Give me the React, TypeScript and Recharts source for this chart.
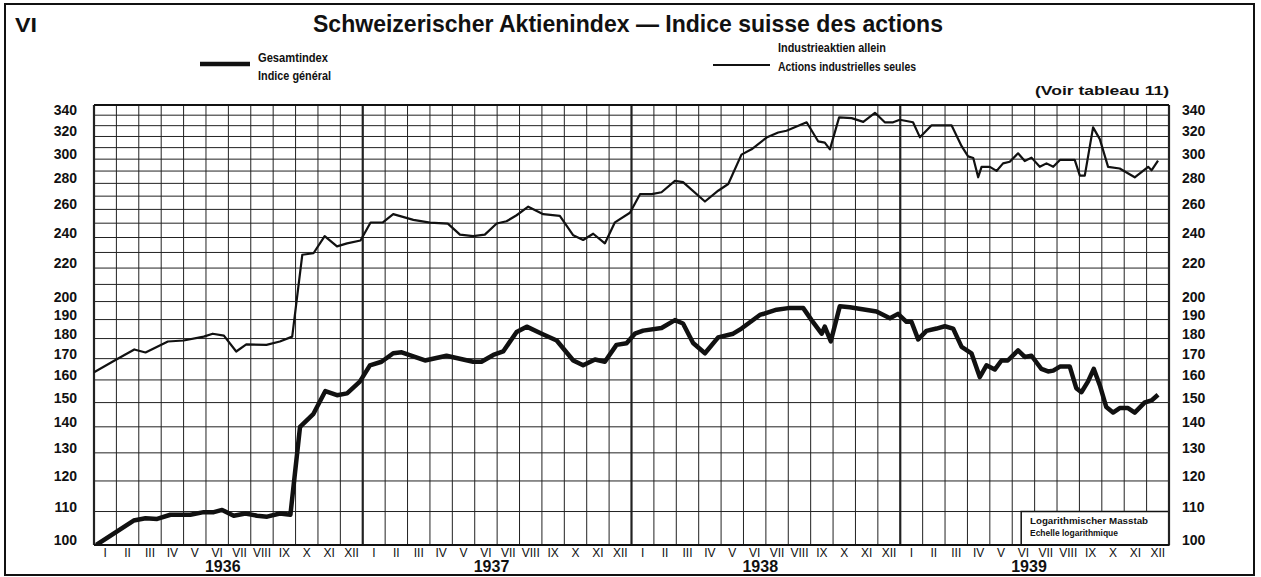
import React from 'react';
import {
  LineChart,
  Line,
  XAxis,
  YAxis,
  CartesianGrid,
  ReferenceLine,
  ReferenceArea,
} from 'recharts';

// month index (0 = start of Jan 1936) and index value
const GESAMTINDEX: [number, number][] = [
  [0.1, 100], [1.77, 107.2], [2.3, 107.9], [2.82, 107.7], [3.41, 109], [4.3, 109],
  [4.9, 109.8], [5.35, 109.8], [5.72, 110.5], [6.24, 108.7], [6.76, 109.4], [7.28, 108.7],
  [7.73, 108.4], [8.3, 109.4], [8.77, 109], [9.2, 140], [9.8, 145.3], [10.33, 155],
  [10.85, 153.2], [11.3, 154], [11.87, 159.2],
  [12.32, 166.8], [12.84, 168.5], [13.36, 172.6], [13.74, 173.1], [14.78, 169.1], [15.74, 171.4],
  [16.93, 168.5], [17.3, 168.5], [17.83, 171.8], [18.27, 173.5], [18.87, 183.4], [19.32, 186.2],
  [19.99, 182.5], [20.66, 179], [21.4, 169.1], [21.84, 166.8], [22.37, 169.6], [22.81, 168.5],
  [23.33, 176.8], [23.78, 177.6],
  [24.15, 182.5], [24.52, 184.1], [25.34, 185.5], [25.94, 189.7], [26.3, 187.9], [26.75, 177.7],
  [27.28, 172.6], [27.87, 180.6], [28.54, 182.5], [28.91, 185.2], [29.73, 192.5], [30.48, 195.4],
  [31.0, 196.3], [31.67, 196.3], [32.04, 189.7], [32.49, 182.5], [32.63, 186.2], [32.9, 178.6],
  [33.3, 197.3], [33.75, 196.8], [34.94, 194.4], [35.54, 190.7], [35.9, 193.1],
  [36.28, 188.8], [36.5, 188.8], [36.8, 179.6], [37.17, 184], [37.62, 185.2], [37.99, 186.4],
  [38.36, 185.2], [38.74, 175.8], [39.18, 172.6], [39.55, 161.3], [39.85, 166.8], [40.22, 164.8],
  [40.52, 169.1], [40.8, 169.1], [41.26, 174], [41.56, 170.8], [41.86, 171.4], [42.3, 165.1],
  [42.6, 163.9], [42.83, 164.3], [43.13, 166.2], [43.57, 166.2], [43.86, 156.3], [44.09, 154.5],
  [44.38, 159.2], [44.64, 165.1], [44.91, 157.6], [45.2, 148.1], [45.5, 145.8], [45.8, 147.7],
  [46.17, 147.7], [46.47, 145.8], [46.92, 150.1], [47.22, 150.9], [47.51, 153.4],
];

const INDUSTRIEAKTIEN: [number, number][] = [
  [0, 163.5], [0.9, 169], [1.8, 174.5], [2.3, 173], [3.3, 178.5], [4.0, 179],
  [4.9, 181], [5.3, 182.5], [5.8, 181.5], [6.35, 173.5], [6.8, 177], [7.7, 176.8],
  [8.3, 178.5], [8.85, 181], [9.3, 228.5], [9.8, 229.5], [10.3, 241], [10.85, 234],
  [11.3, 236], [11.9, 238],
  [12.35, 250.5], [12.9, 250.6], [13.36, 256.5], [14.26, 252.4], [15.0, 250.4], [15.8, 249.7],
  [16.34, 242], [16.93, 241], [17.45, 242], [17.98, 249.8], [18.42, 251.4], [18.87, 255.7],
  [19.39, 262], [20.06, 256.5], [20.8, 255.3], [21.4, 241.5], [21.84, 238.3], [22.29, 242.6],
  [22.81, 236], [23.26, 250.6], [23.93, 257.5],
  [24.38, 271.5], [24.9, 271.5], [25.34, 273], [25.94, 282], [26.3, 281], [27.28, 265.9],
  [27.87, 274.2], [28.32, 279.5], [28.91, 303.9], [29.36, 308.5], [30.03, 319], [30.55, 323.6],
  [30.92, 325.3], [31.82, 333.2], [32.34, 315.5], [32.63, 314.4], [32.86, 308.5], [33.27, 337.9],
  [33.83, 337.2], [34.35, 333.6], [34.87, 342.3], [35.31, 333.2], [35.68, 333.2], [35.98, 335.6],
  [36.57, 333.2], [36.88, 319.2], [37.4, 330.3], [38.29, 330.3], [38.74, 311.3], [39.03, 302.4],
  [39.26, 301], [39.48, 284.9], [39.63, 293.5], [40.0, 293.5], [40.3, 290.1], [40.59, 296.4],
  [40.89, 297.8], [41.26, 305], [41.56, 298.4], [41.86, 301.3], [42.23, 293.5], [42.53, 296.4],
  [42.83, 293.5], [43.13, 299.3], [43.79, 299.3], [44.02, 286.2], [44.24, 286.2], [44.61, 328.4],
  [44.91, 317.6], [45.28, 293.5], [45.8, 292.1], [46.47, 284.9], [47.07, 293.5], [47.22, 290.6],
  [47.51, 298.7],
];

const MONTHS = ['I', 'II', 'III', 'IV', 'V', 'VI', 'VII', 'VIII', 'IX', 'X', 'XI', 'XII'];
const YEARS = ['1936', '1937', '1938', '1939'];
const Y_GRID = [
  100, 110, 120, 130, 140, 150, 160, 170, 180, 190, 200, 210, 220,
  230, 240, 250, 260, 270, 280, 290, 300, 310, 320, 330, 340, 350,
];
const Y_LABELS = [
  100, 110, 120, 130, 140, 150, 160, 170, 180, 190, 200, 220, 240, 260, 280, 300, 320, 340,
];

// note box in the lower right corner ("Logarithmischer Masstab")
const NOTE_BOX = { x1: 41.4, x2: 48, y1: 100, y2: 110 };

const FONT = '"Liberation Sans", Arial, sans-serif';
const NARROW = '"Liberation Sans Narrow", "Liberation Sans", Arial, sans-serif';
const INK = '#111';

const gesamtData = GESAMTINDEX.map(([m, v]) => ({ m, v }));
const industrieData = INDUSTRIEAKTIEN.map(([m, v]) => ({ m, v }));
const monthGrid = Array.from({ length: 49 }, (_, i) => i);
const monthCenters = Array.from({ length: 48 }, (_, i) => i + 0.5);
const yearCenters = YEARS.map((_, i) => i * 12 + 5.75);

const LeftTick = (props: any) => {
  const { x, y, payload } = props;
  if (!Y_LABELS.includes(payload.value)) return <g />;
  return (
    <text x={x} y={y} textAnchor="end" fontSize={14} fontWeight="bold" fontFamily={FONT} fill={INK}>
      {payload.value}
    </text>
  );
};

const RightTick = (props: any) => {
  const { x, y, payload } = props;
  if (!Y_LABELS.includes(payload.value)) return <g />;
  return (
    <text x={x} y={y} textAnchor="start" fontSize={14} fontWeight="bold" fontFamily={FONT} fill={INK}>
      {payload.value}
    </text>
  );
};

const MonthTick = (props: any) => {
  const { x, y, payload } = props;
  const label = MONTHS[Math.floor(payload.value) % 12];
  return (
    <text x={x} y={y} dy={12} textAnchor="middle" fontSize={12} fontFamily={NARROW} fill={INK}>
      {label}
    </text>
  );
};

const YearTick = (props: any) => {
  const { x, y, payload } = props;
  const idx = yearCenters.indexOf(payload.value);
  return (
    <text x={x} y={y} dy={10} textAnchor="middle" fontSize={16} fontWeight="bold" fontFamily={FONT} fill={INK}>
      {YEARS[idx]}
    </text>
  );
};

export default function App() {
  return (
    <div style={{ position: 'absolute', left: 0, top: 0, width: 1261, height: 577, background: '#fff' }}>
      <LineChart
        width={1261}
        height={577}
        margin={{ top: 105, right: 32, bottom: 0, left: 34 }}
      >
        <XAxis
          xAxisId="grid"
          dataKey="m"
          type="number"
          domain={[0, 48]}
          ticks={monthGrid}
          tick={false}
          tickLine={false}
          axisLine={false}
          height={0}
          allowDataOverflow
        />
        <XAxis
          xAxisId="month"
          dataKey="m"
          type="number"
          domain={[0, 48]}
          ticks={monthCenters}
          tick={MonthTick}
          tickLine={false}
          axisLine={false}
          tickSize={0}
          tickMargin={0}
          height={17}
          interval={0}
          allowDataOverflow
        />
        <XAxis
          xAxisId="year"
          dataKey="m"
          type="number"
          domain={[0, 48]}
          ticks={yearCenters}
          tick={YearTick}
          tickLine={false}
          axisLine={false}
          tickSize={0}
          tickMargin={0}
          height={15}
          interval={0}
          allowDataOverflow
        />
        <YAxis
          yAxisId="left"
          orientation="left"
          scale="log"
          type="number"
          domain={[100, 350]}
          ticks={Y_GRID}
          tick={LeftTick}
          tickLine={false}
          axisLine={false}
          tickSize={0}
          tickMargin={17}
          width={60}
          interval={0}
          allowDataOverflow
        />
        <YAxis
          yAxisId="right"
          orientation="right"
          scale="log"
          type="number"
          domain={[100, 350]}
          ticks={Y_GRID}
          tick={RightTick}
          tickLine={false}
          axisLine={false}
          tickSize={0}
          tickMargin={13}
          width={60}
          interval={0}
          allowDataOverflow
        />
        <CartesianGrid xAxisId="grid" yAxisId="left" vertical={false} stroke="#222" strokeWidth={1} />
        <ReferenceArea
          xAxisId="grid"
          yAxisId="left"
          x1={NOTE_BOX.x1}
          x2={NOTE_BOX.x2}
          y1={NOTE_BOX.y1}
          y2={NOTE_BOX.y2}
          fill="#fff"
          fillOpacity={1}
          stroke={INK}
          strokeWidth={1.5}
        />
        {monthGrid.map((m) => (
          <ReferenceLine
            key={`m${m}`}
            xAxisId="grid"
            yAxisId="left"
            segment={[
              { x: m, y: m > NOTE_BOX.x1 && m < NOTE_BOX.x2 ? NOTE_BOX.y2 : 100 },
              { x: m, y: 350 },
            ]}
            stroke="#222"
            strokeWidth={m % 12 === 0 ? 2.2 : 1}
          />
        ))}
        <ReferenceLine xAxisId="grid" yAxisId="left" y={100} stroke={INK} strokeWidth={2.2} />
        <ReferenceLine xAxisId="grid" yAxisId="left" y={350} stroke={INK} strokeWidth={2.2} />
        <Line
          xAxisId="grid"
          yAxisId="left"
          data={industrieData}
          dataKey="v"
          type="linear"
          stroke={INK}
          strokeWidth={2.2}
          dot={false}
          isAnimationActive={false}
          strokeLinejoin="round"
        />
        <Line
          xAxisId="grid"
          yAxisId="left"
          data={gesamtData}
          dataKey="v"
          type="linear"
          stroke={INK}
          strokeWidth={4.5}
          dot={false}
          isAnimationActive={false}
          strokeLinejoin="round"
        />
      </LineChart>

      <svg
        width={1261}
        height={577}
        style={{ position: 'absolute', left: 0, top: 0, pointerEvents: 'none' }}
      >
        <rect x={5} y={4} width={1249} height={571} fill="none" stroke={INK} strokeWidth={2} />
        <text x={15} y={32} fontSize={20} fontWeight="bold" fontFamily={FONT} fill={INK} textLength={22} lengthAdjust="spacingAndGlyphs">
          VI
        </text>
        <text x={313} y={32} fontSize={24} fontWeight="bold" fontFamily={NARROW} fill={INK} textLength={630} lengthAdjust="spacingAndGlyphs">
          Schweizerischer Aktienindex — Indice suisse des actions
        </text>

        <line x1={200} y1={64} x2={250} y2={64} stroke={INK} strokeWidth={4.5} />
        <text x={258} y={62} fontSize={12.5} fontWeight="bold" fontFamily={NARROW} fill={INK} textLength={70} lengthAdjust="spacingAndGlyphs">
          Gesamtindex
        </text>
        <text x={258} y={80} fontSize={12.5} fontWeight="bold" fontFamily={NARROW} fill={INK} textLength={73} lengthAdjust="spacingAndGlyphs">
          Indice général
        </text>

        <line x1={713} y1={65} x2={770} y2={65} stroke={INK} strokeWidth={1.8} />
        <text x={778} y={52} fontSize={12.5} fontWeight="bold" fontFamily={NARROW} fill={INK} textLength={108} lengthAdjust="spacingAndGlyphs">
          Industrieaktien allein
        </text>
        <text x={778} y={71} fontSize={12.5} fontWeight="bold" fontFamily={NARROW} fill={INK} textLength={138} lengthAdjust="spacingAndGlyphs">
          Actions industrielles seules
        </text>
        <text x={1035} y={95} fontSize={12.5} fontWeight="bold" fontFamily={NARROW} fill={INK} textLength={134} lengthAdjust="spacingAndGlyphs">
          (Voir tableau 11)
        </text>

        <text x={1030} y={524} fontSize={9} fontWeight="bold" fontFamily={NARROW} fill={INK} textLength={118} lengthAdjust="spacingAndGlyphs">
          Logarithmischer Masstab
        </text>
        <text x={1030} y={536} fontSize={9} fontWeight="bold" fontFamily={NARROW} fill={INK} textLength={88} lengthAdjust="spacingAndGlyphs">
          Echelle logarithmique
        </text>
      </svg>
    </div>
  );
}
